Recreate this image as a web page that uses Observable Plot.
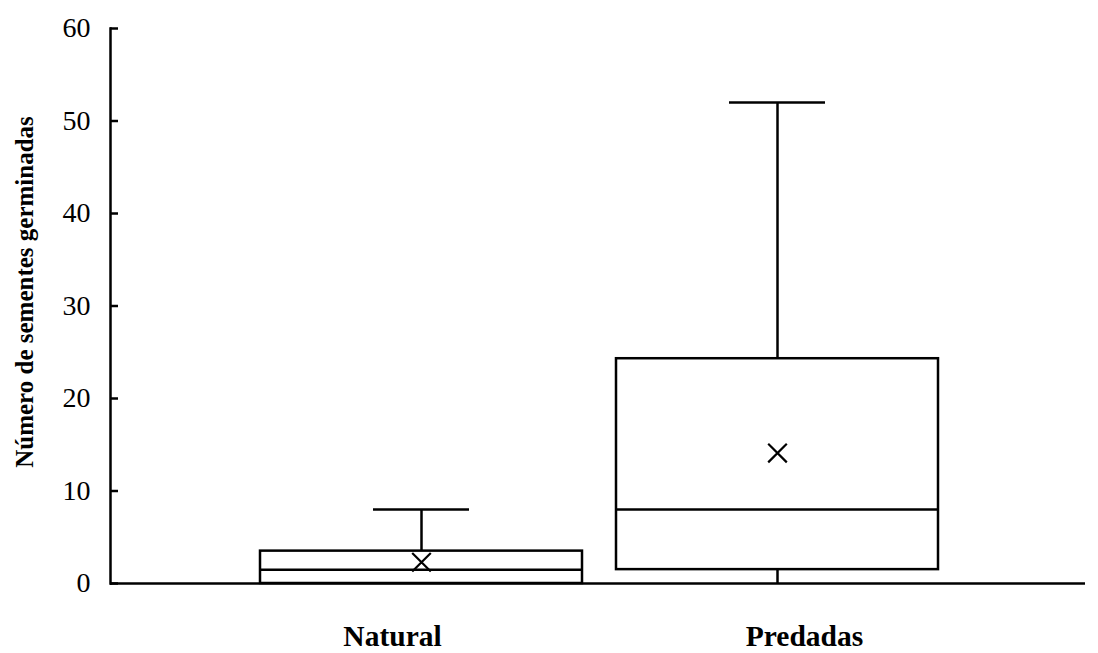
<!DOCTYPE html>
<html>
<head>
<meta charset="utf-8">
<script src="https://cdn.jsdelivr.net/npm/d3@7"></script>
<script src="https://cdn.jsdelivr.net/npm/@observablehq/plot@0.6"></script>
<style>
  html, body { margin: 0; padding: 0; background: #fff; }
</style>
</head>
<body>
<div id="chart"></div>
<script>
const categories = ["Natural", "Predadas"];
const mins = [0, 0];
const q1s = [0, 1.5];
const medians = [1.5, 8];
const q3s = [3.5, 24.3];
const maxs = [8, 52];
const means = [2.3, 14.1];
const yTicks = [0, 10, 20, 30, 40, 50, 60];
const yLabel = "Número de sementes germinadas";

const data = categories.map((c, i) => ({
  cat: c, min: mins[i], q1: q1s[i], median: medians[i], q3: q3s[i], max: maxs[i], mean: means[i]
}));

const font = "'Liberation Serif', 'Times New Roman', serif";

const chart = Plot.plot({
  width: 1098,
  height: 653,
  marginLeft: 110,
  marginRight: 13,
  marginTop: 28,
  marginBottom: 70,
  style: { fontFamily: font, background: "#fff", color: "#000" },
  x: { type: "band", domain: categories, range: [226, 972], padding: 0.0955 },
  y: { domain: [0, 60] },
  marks: [
    // whiskers
    Plot.ruleX(data, { x: "cat", y1: "q3", y2: "max", stroke: "#000", strokeWidth: 2.5 }),
    Plot.ruleX(data, { x: "cat", y1: "min", y2: "q1", stroke: "#000", strokeWidth: 2.5 }),
    Plot.tickY(data, { x: "cat", y: "max", stroke: "#000", strokeWidth: 2.5, insetLeft: 113, insetRight: 113 }),
    // boxes
    Plot.barY(data, { x: "cat", y1: "q1", y2: "q3", fill: "#fff", stroke: "#000", strokeWidth: 2.5 }),
    Plot.tickY(data, { x: "cat", y: "median", stroke: "#000", strokeWidth: 2.5 }),
    Plot.dot(data, { x: "cat", y: "mean", symbol: "times", r: 8.5, stroke: "#000", strokeWidth: 2.2 }),
    // axes
    Plot.ruleY([0], { stroke: "#000", strokeWidth: 2.5 }),
    Plot.frame({ anchor: "left", stroke: "#000", strokeWidth: 2.5 }),
    Plot.axisY({ ticks: yTicks, tickSize: 0, tickPadding: 20, fontSize: 28, label: null, tickFormat: d => String(d) }),
    Plot.axisY({ ticks: yTicks, tickSize: -8, text: null, label: null, strokeWidth: 2.5 }),
    Plot.text([yLabel], { frameAnchor: "left", dx: -86, dy: -14, rotate: -90, fontSize: 25, fontWeight: "bold", textAnchor: "middle", lineAnchor: "middle", fill: "#000" }),
    Plot.axisX({ ticks: ["Natural"], tickSize: 0, tickPadding: 42, fontSize: 29.5, fontWeight: "bold", dx: -29, label: null }),
    Plot.axisX({ ticks: ["Predadas"], tickSize: 0, tickPadding: 42, fontSize: 29.5, fontWeight: "bold", dx: 27, label: null })
  ]
});

document.getElementById("chart").appendChild(chart);
</script>
</body>
</html>
